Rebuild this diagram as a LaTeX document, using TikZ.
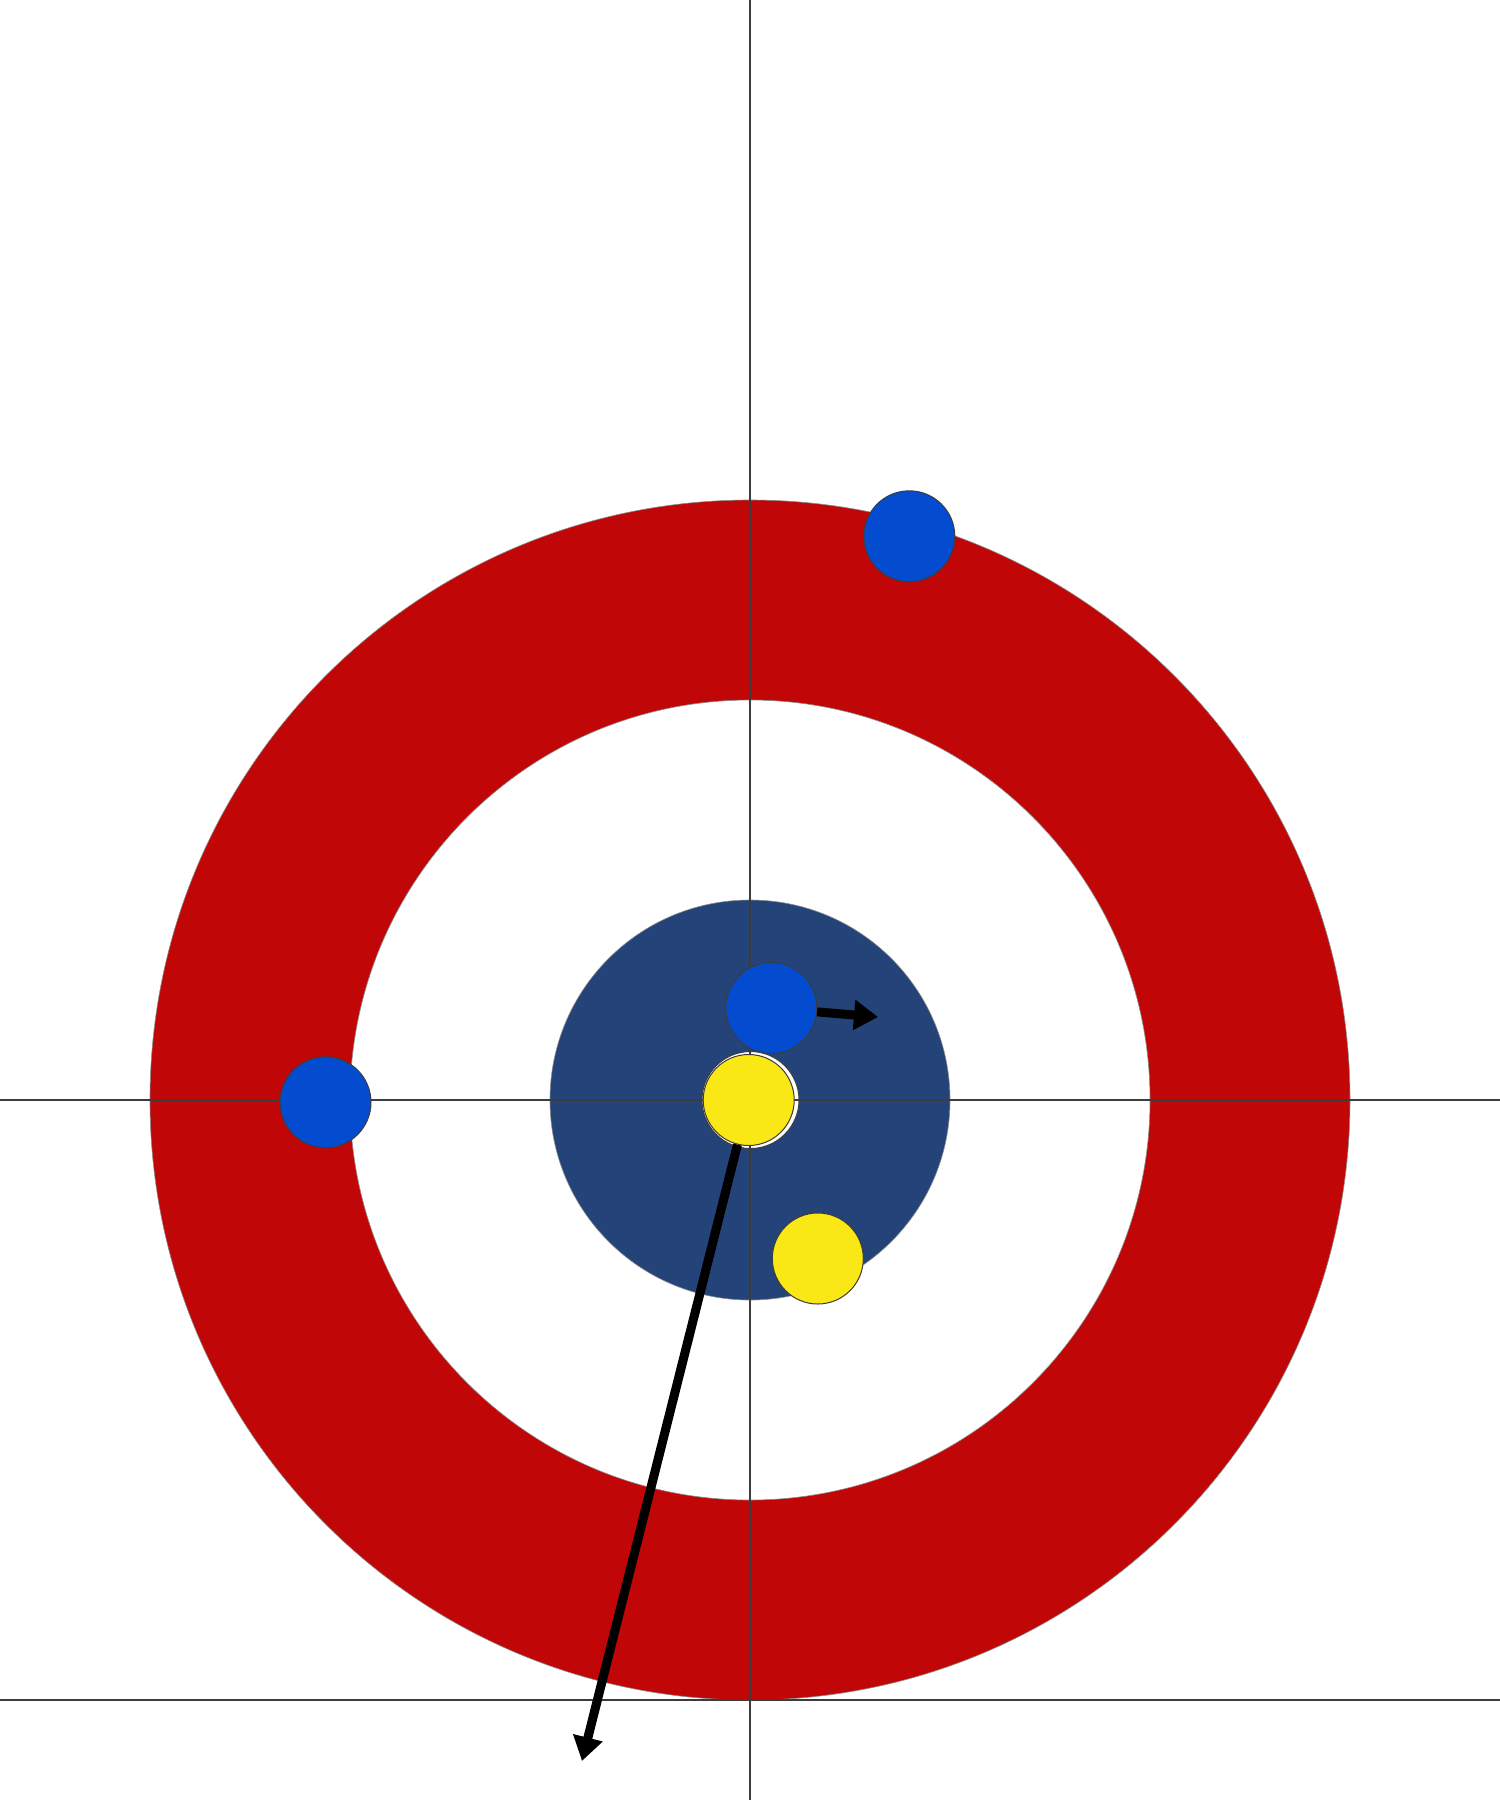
\documentclass[tikz,border=0pt]{standalone}
\usetikzlibrary{arrows.meta}
\definecolor{ringred}{RGB}{192,6,6}
\definecolor{ringnavy}{RGB}{36,67,120}
\definecolor{stoneblue}{RGB}{3,76,208}
\definecolor{stoneyellow}{RGB}{249,232,22}
\definecolor{linegray}{RGB}{60,60,60}
\begin{document}
\begin{tikzpicture}[x=1pt,y=-1pt,
  ring/.style={draw=linegray!60, line width=0.6pt},
  sheetline/.style={draw=linegray, line width=1.8pt},
  stone/.style={circle, draw=linegray, line width=1pt, minimum size=91pt, inner sep=0pt},
  bluestone/.style={stone, fill=stoneblue},
  yellowstone/.style={stone, fill=stoneyellow},
  motion/.style={draw=black, line width=9pt, -{Triangle[length=24pt,width=29pt]}}]
\useasboundingbox[fill=white] (0,0) rectangle (1500,1800);
% house
\fill[ringred, ring] (750,1100) circle[radius=600];
\fill[white, ring] (750,1100) circle[radius=400];
\fill[ringnavy, ring] (750,1100) circle[radius=200];
\filldraw[fill=white, draw=linegray, line width=1pt] (750.5,1100) circle[radius=48.5];
% sheet lines
\draw[sheetline] (750,0) -- (750,1800);
\draw[sheetline] (0,1100) -- (1500,1100);
\draw[sheetline] (0,1700) -- (1500,1700);
% stones
\node[bluestone] (b1) at (909.3,536.3) {};
\node[bluestone] (b2) at (325.5,1102.3) {};
\node[bluestone] (b3) at (771.3,1008) {};
\node[yellowstone] (y1) at (748.7,1100) {};
\node[yellowstone] (y2) at (817.8,1258.5) {};
% motion arrows
\coordinate (t3) at (878,1017);
\coordinate (t1) at (582,1761);
\draw[motion] (b3) -- (t3);
\draw[motion] (y1) -- (t1);
\end{tikzpicture}
\end{document}
